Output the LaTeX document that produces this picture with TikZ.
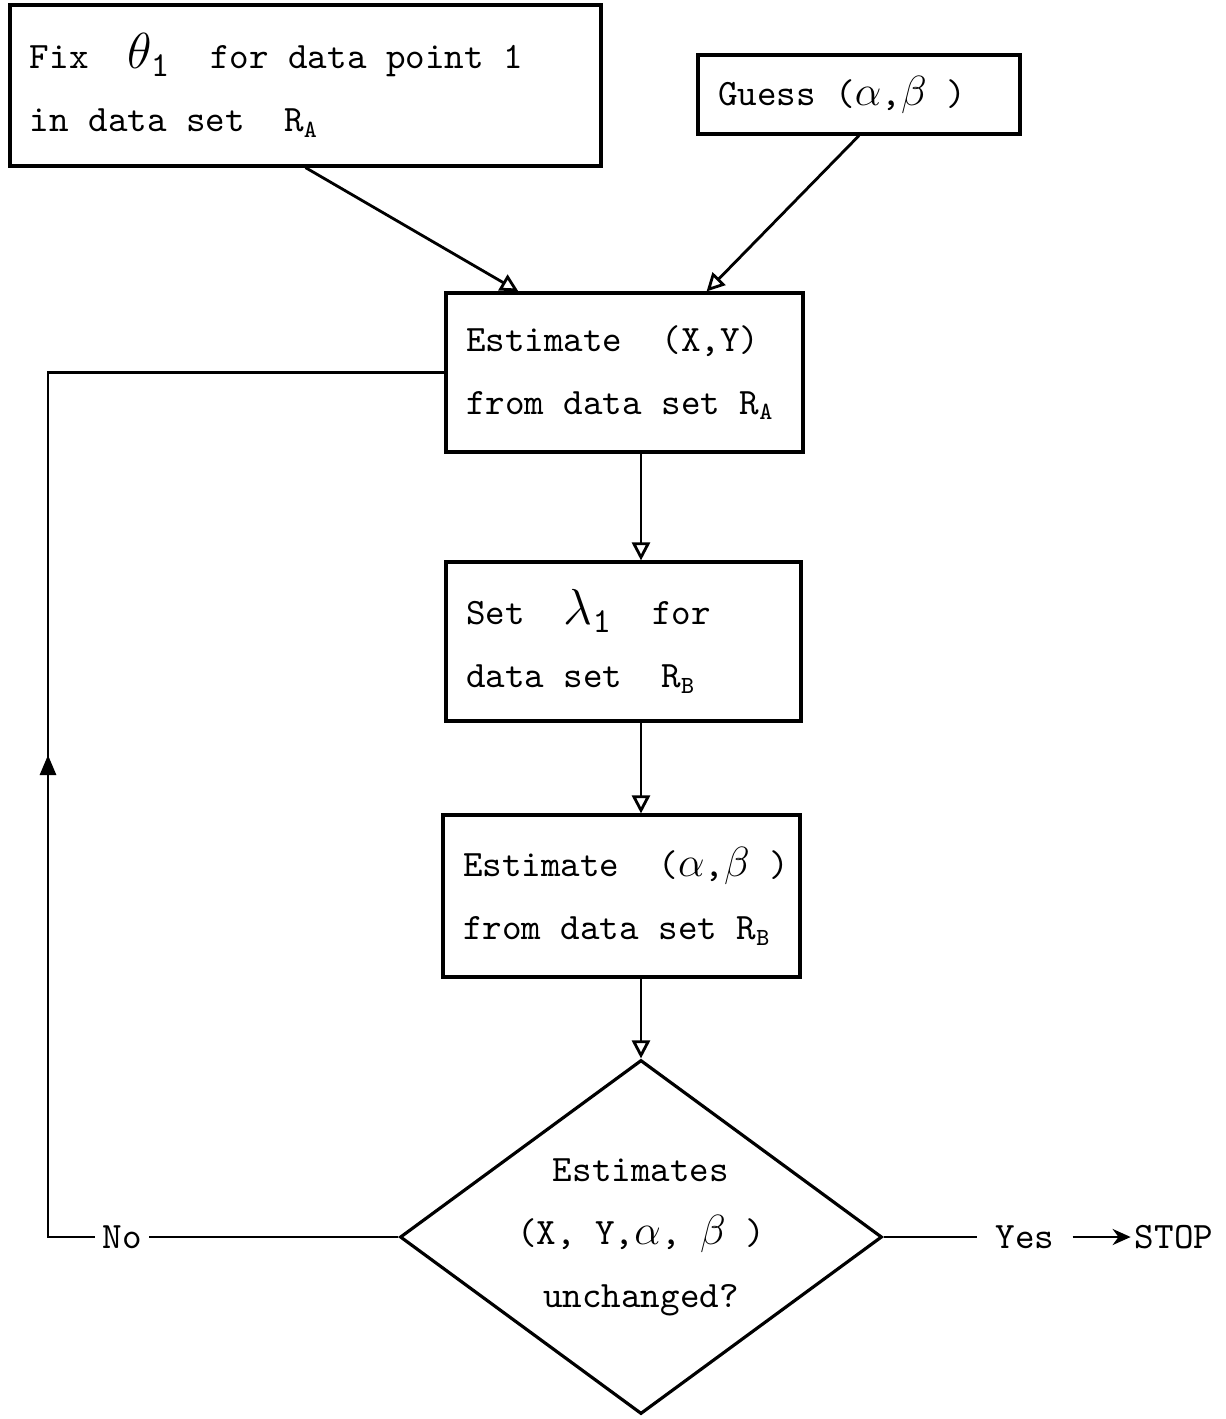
\documentclass[tikz,border=0pt]{standalone}
\usepackage{tikz}
\usetikzlibrary{positioning, arrows.meta, shapes}
\newcommand{\subt}[1]{$_{\mathtt{#1}}$}
\newcommand{\ttsize}{\ttfamily\fontsize{10.6}{17.9}\selectfont}
\tikzset{every node/.append style={execute at begin node={\spaceskip=0.525em\xspaceskip=0.525em\relax}}}
\tikzstyle{procBox}=[draw, line width=0.9pt, align=left, inner xsep=0.2cm, inner ysep=0pt, font=\ttsize]
\tikzstyle{testNode}=[draw, diamond, aspect=1.36, line width=0.9pt, inner sep=0pt, minimum width=4.82cm, minimum height=3.54cm, align=center, font=\ttsize]
\tikzstyle{plainText}=[inner sep=1pt, font=\ttsize]
\tikzstyle{flowLine}=[line width=0.8pt]
\tikzstyle{flowArrow}=[-{Triangle[open,length=1.8mm,width=1.8mm]}, line width=0.8pt]

\begin{document}
\begin{tikzpicture}

    \useasboundingbox (0,0) rectangle (12.26,-14.19);

    \node[procBox, text width=5.51cm, minimum height=1.61cm] (fix) at (3.055,-0.855) {Fix~~{\Large$\theta_{\mathtt{1}}$}~~for data point 1\\in data set~~R\subt{A}};
    \node[procBox, text width=2.82cm, minimum height=0.79cm] (guess) at (8.59,-0.945) {Guess ({\large$\alpha$},{\large$\beta$}~)};
    \node[procBox, text width=3.17cm, minimum height=1.59cm] (estA) at (6.245,-3.725) {Estimate~~(X,Y)\\from data set R\subt{A}};
    \node[procBox, text width=3.15cm, minimum height=1.59cm] (setB) at (6.235,-6.415) {Set~~{\Large$\lambda_{\mathtt{1}}$}~~for\\data set~~R\subt{B}};
    \node[procBox, text width=3.17cm, minimum height=1.62cm] (estB) at (6.215,-8.96) {\hbox{Estimate~~({\large$\alpha$},{\large$\beta$}~)}\\from data set R\subt{B}};
    \node[testNode] (test) at (6.41,-12.37) {Estimates\\(X, Y,{\large$\alpha$}, {\large$\beta$}~)\\unchanged?};

    \node[plainText, inner xsep=2pt] (no) at (1.22,-12.37) {No};
    \node[plainText, inner xsep=5pt] (yes) at (10.25,-12.37) {Yes};
    \node[plainText] (stop) at (11.74,-12.37) {STOP};
    \coordinate (loopLow) at (0.48,-12.37);
    \coordinate (loopMid) at (0.48,-7.55);

    \draw[flowArrow] (fix.south) -- ([xshift=0.74cm]estA.north west);
    \draw[flowArrow] (guess.south) -- ([xshift=-0.98cm]estA.north east);
    \draw[flowArrow] (estA.south -| test.north) -- (setB.north -| test.north);
    \draw[flowArrow] (setB.south -| test.north) -- (estB.north -| test.north);
    \draw[flowArrow] (estB.south -| test.north) -- (test.north);

    \draw[flowLine] (test.west) -- (no.east);
    \draw[flowLine] (no.west) -- (loopLow) -- (loopLow |- estA.west) -- (estA.west);
    \draw[flowLine, -{Triangle[length=2mm,width=1.6mm]}] (loopLow) -- (loopMid);
    \draw[flowLine] (test.east) -- (yes.west);
    \draw[flowLine, -{Stealth[length=1.8mm,width=1.6mm]}] (yes) -- (stop);

  \end{tikzpicture}
\end{document}
